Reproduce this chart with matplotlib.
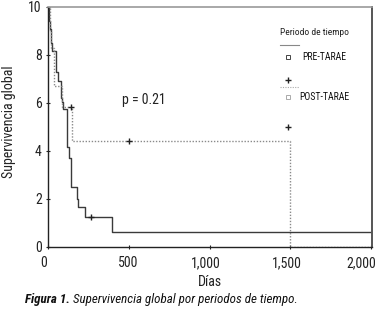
import matplotlib
matplotlib.use("Agg")
import matplotlib.pyplot as plt
import matplotlib.transforms as mtransforms
from matplotlib import font_manager as fm

names = {f.name for f in fm.fontManager.ttflist}
NARROW = "Liberation Sans"
for cand in ["Liberation Sans Narrow", "Arial Narrow", "Roboto Condensed",
             "Archivo Narrow", "PT Sans Narrow", "Open Sans Condensed", "Barlow Condensed"]:
    if cand in names:
        NARROW = cand
        break
plt.rcParams["font.family"] = [NARROW, "DejaVu Sans"]

# ---- data ----
pre_times = [0, 4, 8, 12, 16, 20, 25, 49, 61, 80, 86, 92, 117, 127, 141, 178, 184, 227, 393, 2005]
pre_surv = [10, 9.7, 9.4, 9.1, 8.8, 8.5, 8.15, 7.3, 6.9, 6.2, 6.05, 5.75, 4.15, 3.7, 2.5, 2.0, 1.65, 1.25, 0.63, 0.63]
pre_cens_t = [264]
pre_cens_s = [1.25]

post_times = [0, 10, 20, 35, 85, 150, 1500, 2005]
post_surv = [10, 9.0, 8.3, 6.7, 5.85, 4.4, 0.0, 0.0]
post_cens_t = [140, 500]
post_cens_s = [5.85, 4.4]

xticks = [0, 500, 1000, 1500, 2000]
xticklabels = ["0", "500", "1,000", "1,500", "2,000"]
yticks = [0, 2, 4, 6, 8, 10]

W, H = 380, 315
fig = plt.figure(figsize=(W / 100, H / 100), dpi=100)
ax = fig.add_axes([48 / W, 1 - 247 / H, (372 - 48) / W, (247 - 7) / H])

ax.step(pre_times, pre_surv, where="post", color="#3a3a3a", lw=1.0)
ax.step(post_times, post_surv, where="post", color="#8a8a8a", lw=1.0, ls=(0, (1, 1.2)))
ax.plot(pre_cens_t, pre_cens_s, ls="none", marker="+", color="#222222", ms=4, mew=1)
ax.plot(post_cens_t, post_cens_s, ls="none", marker="+", color="#222222", ms=4, mew=1)

ax.set_xlim(0, 2005)
ax.set_ylim(0, 10)
ax.set_xticks(xticks)
ax.set_xticklabels(xticklabels)
ax.set_yticks(yticks)
ax.tick_params(direction="inout", length=3, width=0.8, labelsize=10, pad=3, colors="#222222")
ax.tick_params(axis="x", pad=5)
shifts = [-4, -1, -4, -4, -10]
for lab, dx in zip(ax.get_xticklabels(), shifts):
    lab.set_transform(lab.get_transform() +
                      mtransforms.ScaledTranslation(dx / 100, 0, fig.dpi_scale_trans))
for s in ["left", "bottom"]:
    ax.spines[s].set_color("#222222")
    ax.spines[s].set_linewidth(1.0)
ax.spines["top"].set_color("#9a9a9a")
ax.spines["top"].set_linewidth(1.2)
ax.spines["right"].set_color("#555555")
ax.spines["right"].set_linewidth(1.4)

ax.text(0.228, 0.614, "p = 0.21", transform=ax.transAxes, fontsize=10,
        va="center", ha="left", color="#222222")

# legend (SPSS style)
ax.text(0.716, 0.892, "Periodo de tiempo", transform=ax.transAxes, fontsize=6.8,
        va="center", ha="left", color="#222222")
ax.plot([0.716, 0.774], [0.842, 0.842], transform=ax.transAxes, color="#888888", lw=0.8)
ax.plot([0.741], [0.793], transform=ax.transAxes, marker="s", ms=3, mfc="white",
        mec="#444444", mew=0.7, ls="none")
ax.text(0.784, 0.793, "PRE-TARAE", transform=ax.transAxes, fontsize=7,
        va="center", ha="left", color="#111111")
ax.plot([0.741], [0.697], transform=ax.transAxes, marker="+", ms=4, color="#222222", mew=1, ls="none")
ax.plot([0.716, 0.774], [0.668, 0.668], transform=ax.transAxes, color="#aaaaaa", lw=0.8,
        ls=(0, (1, 1.2)))
ax.plot([0.741], [0.627], transform=ax.transAxes, marker="s", ms=3, mfc="white",
        mec="#aaaaaa", mew=0.7, ls="none")
ax.text(0.777, 0.627, "POST-TARAE", transform=ax.transAxes, fontsize=7,
        va="center", ha="left", color="#111111")
ax.plot([0.741], [0.498], transform=ax.transAxes, marker="+", ms=4, color="#222222", mew=1, ls="none")

ax.set_ylabel("Supervivencia global", fontsize=10, color="#222222")
ax.yaxis.set_label_coords(-(48 - 16) / (372 - 48), (247 - 122) / (247 - 7))
fig.text(210 / W, 1 - 282 / H, "Días", fontsize=10, ha="center", va="center", color="#222222")

t1 = fig.text(25 / W, 1 - 300 / H, "Figura 1.", fontsize=9.4, style="italic",
              weight="bold", ha="left", va="center", color="#111111")
ax.annotate(" Supervivencia global por periodos de tiempo.", xy=(1, 0.5), xycoords=t1,
            xytext=(0, 0), textcoords="offset points", fontsize=9.4, style="italic",
            ha="left", va="center", color="#111111", annotation_clip=False)

fig.savefig("out.png", dpi=100)
